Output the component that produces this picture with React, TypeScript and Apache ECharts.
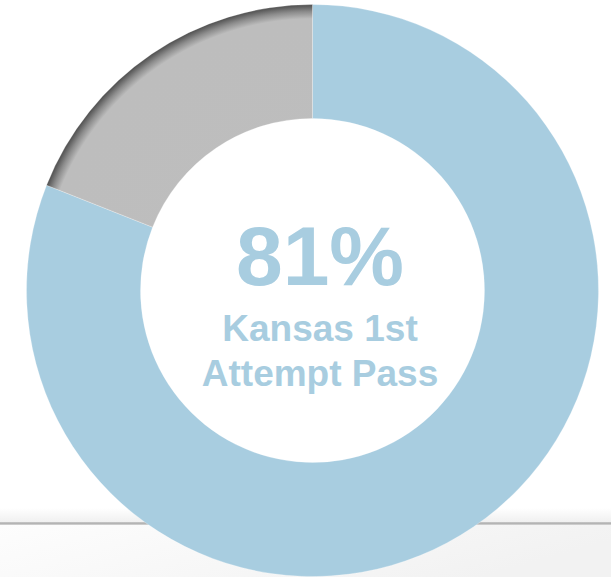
import React, { useEffect, useRef } from "react";
import * as echarts from "echarts";

const categories = ["Kansas 1st Attempt Pass", "Not Passed"];
const values = [81, 19];
const headline = "81%";
const subtitleLines = ["Kansas 1st", "Attempt Pass"];

const BLUE = "#a8cde0";
const CX = 312.5;
const CY = 290.5;
const R_IN = 172;
const R_OUT = 286;

export default function App() {
  const ref = useRef<HTMLDivElement>(null);
  useEffect(() => {
    if (!ref.current) return;
    const chart = echarts.init(ref.current, undefined, { renderer: "svg" });
    const grayFill = {
      type: "radial",
      x: CX,
      y: CY,
      r: R_OUT,
      global: true,
      colorStops: [
        { offset: 0, color: "#bebebe" },
        { offset: 0.95, color: "#bdbdbd" },
        { offset: 0.975, color: "#8c8c8c" },
        { offset: 1, color: "#4e4e4e" },
      ],
    };
    chart.setOption({
      animation: false,
      backgroundColor: "#ffffff",
      graphic: [
        {
          type: "rect",
          z: -10,
          shape: { x: 0, y: 508, width: 611, height: 14 },
          style: {
            fill: {
              type: "linear", x: 0, y: 0, x2: 0, y2: 1,
              colorStops: [
                { offset: 0, color: "rgba(240,240,240,0)" },
                { offset: 1, color: "#f0f0f0" },
              ],
            },
          },
        },
        {
          type: "rect",
          z: -10,
          shape: { x: 0, y: 522, width: 611, height: 3 },
          style: {
            fill: {
              type: "linear", x: 0, y: 0, x2: 0, y2: 1,
              colorStops: [
                { offset: 0, color: "#c8c8c8" },
                { offset: 0.5, color: "#b4b4b4" },
                { offset: 1, color: "#d8d8d8" },
              ],
            },
          },
        },
        {
          type: "rect",
          z: -10,
          shape: { x: 0, y: 525, width: 611, height: 52 },
          style: {
            fill: {
              type: "linear", x: 0, y: 0, x2: 1, y2: 0.3,
              colorStops: [
                { offset: 0, color: "#fdfdfd" },
                { offset: 1, color: "#f2f2f2" },
              ],
            },
          },
        },
        {
          type: "text",
          z: 10,
          x: 320,
          y: 256,
          style: {
            text: headline,
            fill: BLUE,
            font: "bold 84px 'Liberation Sans', Arial, sans-serif",
            textAlign: "center",
            textVerticalAlign: "middle",
          },
        },
        {
          type: "text",
          z: 10,
          x: 320,
          y: 328,
          style: {
            text: subtitleLines[0],
            fill: BLUE,
            font: "bold 37px 'Liberation Sans', Arial, sans-serif",
            textAlign: "center",
            textVerticalAlign: "middle",
          },
        },
        {
          type: "text",
          z: 10,
          x: 320,
          y: 373,
          style: {
            text: subtitleLines[1],
            fill: BLUE,
            font: "bold 37px 'Liberation Sans', Arial, sans-serif",
            textAlign: "center",
            textVerticalAlign: "middle",
          },
        },
      ],
      series: [
        {
          type: "pie",
          center: [CX, CY],
          radius: [R_IN, R_OUT],
          startAngle: 90,
          clockwise: true,
          silent: true,
          label: { show: false },
          labelLine: { show: false },
          itemStyle: { borderColor: "rgba(255,255,255,0.5)", borderWidth: 0.5 },
          data: categories.map((name, i) => ({
            name,
            value: values[i],
            itemStyle: { color: i === 0 ? BLUE : grayFill },
          })),
        },
      ],
    });
    return () => chart.dispose();
  }, []);
  return (
    <div
      ref={ref}
      style={{ position: "absolute", left: 0, top: 0, width: 611, height: 577 }}
    />
  );
}
